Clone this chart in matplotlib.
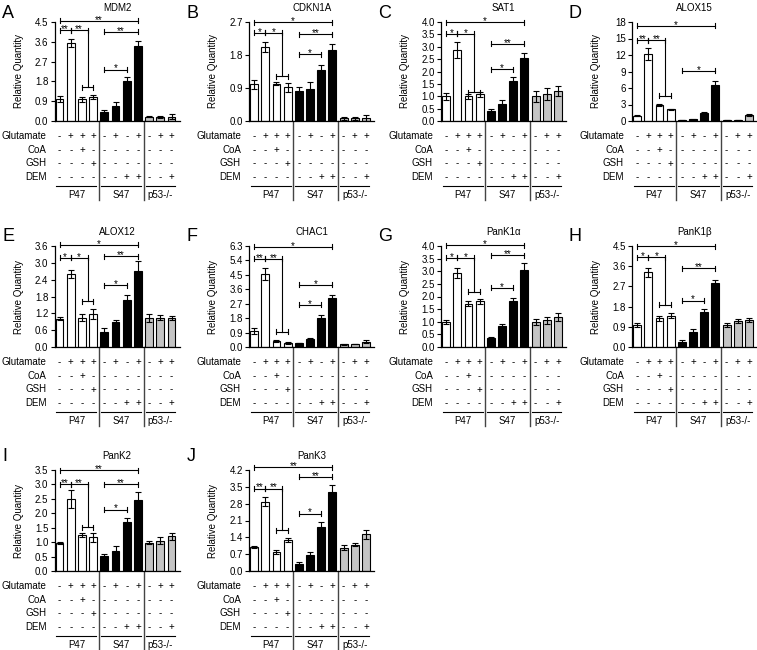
import numpy as np
import matplotlib.pyplot as plt

plt.rcParams['font.family'] = ['Liberation Sans', 'DejaVu Sans']

# datos (11 barras: P47 x4, S47 x4, p53-/- x3)
genes = ['MDM2', 'CDKN1A', 'SAT1', 'ALOX15', 'ALOX12', 'CHAC1',
         'PanK1\u03b1', 'PanK1\u03b2', 'PanK2', 'PanK3']
letters = ['A', 'B', 'C', 'D', 'E', 'F', 'G', 'H', 'I', 'J']
y_max = [4.5, 2.7, 4.0, 18, 3.6, 6.3, 4.0, 4.5, 3.5, 4.2]
y_step = [0.9, 0.9, 0.5, 3, 0.6, 0.9, 0.5, 0.9, 0.5, 0.7]

mdm2 = [1.0, 3.55, 0.98, 1.1, 0.4, 0.68, 1.8, 3.4, 0.2, 0.18, 0.2]
mdm2_err = [0.15, 0.2, 0.1, 0.1, 0.08, 0.2, 0.2, 0.25, 0.04, 0.06, 0.1]
cdkn1a = [1.0, 2.02, 1.02, 0.92, 0.82, 0.88, 1.38, 1.93, 0.07, 0.07, 0.09]
cdkn1a_err = [0.12, 0.13, 0.04, 0.13, 0.1, 0.18, 0.15, 0.18, 0.03, 0.04, 0.08]
sat1 = [1.0, 2.87, 1.0, 1.08, 0.39, 0.69, 1.6, 2.54, 1.0, 1.1, 1.22]
sat1_err = [0.15, 0.33, 0.1, 0.1, 0.08, 0.15, 0.17, 0.2, 0.22, 0.25, 0.2]
alox15 = [1.0, 12.2, 2.9, 2.1, 0.2, 0.3, 1.4, 6.6, 0.2, 0.2, 1.1]
alox15_err = [0.1, 1.1, 0.15, 0.15, 0.05, 0.05, 0.15, 0.7, 0.03, 0.03, 0.15]
alox12 = [1.01, 2.61, 1.05, 1.19, 0.53, 0.89, 1.66, 2.72, 1.03, 1.05, 1.03]
alox12_err = [0.05, 0.15, 0.12, 0.18, 0.15, 0.08, 0.2, 0.35, 0.13, 0.08, 0.08]
chac1 = [1.0, 4.55, 0.36, 0.25, 0.25, 0.52, 1.83, 3.05, 0.17, 0.19, 0.32]
chac1_err = [0.18, 0.35, 0.05, 0.04, 0.03, 0.04, 0.17, 0.22, 0.03, 0.02, 0.1]
pank1a = [0.99, 2.94, 1.72, 1.81, 0.37, 0.82, 1.81, 3.06, 0.99, 1.05, 1.19]
pank1a_err = [0.08, 0.2, 0.1, 0.1, 0.03, 0.08, 0.12, 0.25, 0.12, 0.13, 0.17]
pank1b = [0.98, 3.32, 1.28, 1.39, 0.23, 0.68, 1.58, 2.87, 0.98, 1.16, 1.2]
pank1b_err = [0.07, 0.22, 0.12, 0.12, 0.08, 0.12, 0.1, 0.12, 0.1, 0.08, 0.08]
pank2 = [0.98, 2.49, 1.24, 1.17, 0.51, 0.71, 1.7, 2.46, 0.98, 1.05, 1.2]
pank2_err = [0.04, 0.32, 0.07, 0.15, 0.08, 0.15, 0.13, 0.27, 0.06, 0.13, 0.11]
pank3 = [1.0, 2.88, 0.79, 1.29, 0.29, 0.68, 1.84, 3.3, 0.97, 1.1, 1.52]
pank3_err = [0.04, 0.18, 0.07, 0.1, 0.07, 0.1, 0.18, 0.28, 0.1, 0.05, 0.18]

means = [mdm2, cdkn1a, sat1, alox15, alox12, chac1, pank1a, pank1b, pank2, pank3]
errors = [mdm2_err, cdkn1a_err, sat1_err, alox15_err, alox12_err, chac1_err,
          pank1a_err, pank1b_err, pank2_err, pank3_err]

# significancia: texto y altura de cada corchete
s_top = ['**', '*', '*', '*', '*', '*', '*', '*', '**', '**']
s_01 = ['**', '*', '*', '**', '*', '**', '*', '*', '**', '**']
s_47 = ['**', '**', '**', '*', '**', '*', '**', '**', '**', '**']
s_46 = ['*', '*', '*', None, '*', '*', '*', '*', '*', '*']
h_top = [4.55, 2.7, 4.0, 17.3, 3.65, 6.26, 4.02, 4.5, 3.5, 4.31]
h_01 = [4.12, 2.41, 3.53, 14.7, 3.18, 5.5, 3.54, 4.0, 3.01, 3.43]
h_23 = [1.53, 1.22, 1.17, 4.6, 1.63, 0.95, 2.18, 1.89, 1.51, 1.7]
h_47 = [4.05, 2.36, 3.12, 9.1, 3.24, 3.89, 3.63, 3.5, 3.01, 3.92]
h_46 = [2.34, 1.82, 2.1, None, 2.2, 2.63, 2.34, 2.07, 2.13, 2.39]

# tabla de tratamientos
treatments = ['Glutamate', 'CoA', 'GSH', 'DEM']
glutamate = ['-', '+', '+', '+', '-', '+', '-', '+', '-', '+', '+']
coa = ['-', '-', '+', '-', '-', '-', '-', '-', '-', '-', '-']
gsh = ['-', '-', '-', '+', '-', '-', '-', '-', '-', '-', '-']
dem = ['-', '-', '-', '-', '-', '-', '+', '+', '-', '-', '+']
groups = ['P47', 'S47', 'p53-/-']
group_sizes = [4, 4, 3]
group_colors = ['white', 'black', '#c4c4c4']

W, H = 757, 650
col_x = [54.5, 249, 441, 632]
row_top = [22, 246, 470]
row_h = [99, 101, 101]
ax_w = 125.4
letter_y = [5, 228, 448]
letter_x = [2, 187, 378, 568]


def bracket(ax, x1, x2, y, label, ppd):
    cap = 2.5 * ppd
    ax.plot([x1, x2], [y, y], color='black', lw=0.8, clip_on=False)
    ax.plot([x1, x1], [y - cap, y + cap], color='black', lw=0.8, clip_on=False)
    ax.plot([x2, x2], [y - cap, y + cap], color='black', lw=0.8, clip_on=False)
    if label:
        ax.text((x1 + x2) / 2, y - 2 * ppd, label, ha='center', va='baseline',
                fontsize=7, clip_on=False)


def panel(i):
    row, col = i // 4, i % 4
    h_px = row_h[row]
    ax = fig.add_axes([col_x[col] / W, 1 - (row_top[row] + h_px) / H, ax_w / W, h_px / H])

    x = np.arange(11)
    colors = []
    for c, n in zip(group_colors, group_sizes):
        colors += [c] * n
    ax.bar(x, means[i], width=0.7, color=colors, edgecolor='black', linewidth=0.8, zorder=2)
    ax.errorbar(x, means[i], yerr=errors[i], fmt='none', ecolor='black',
                elinewidth=0.8, capsize=2.2, capthick=0.8, zorder=3)

    ax.set_xlim(-0.45, 10.75)
    ax.set_ylim(0, y_max[i])
    ticks = np.arange(0, y_max[i] + y_step[i] / 2, y_step[i])
    ax.set_yticks(ticks)
    if y_step[i] >= 1:
        ax.set_yticklabels([f'{t:.0f}' for t in ticks])
    else:
        ax.set_yticklabels([f'{t:.1f}' for t in ticks])
    ax.set_xticks([])
    ax.tick_params(axis='y', direction='out', length=3, width=0.8, pad=1.5, labelsize=7)
    for s in ['top', 'right']:
        ax.spines[s].set_visible(False)
    for s in ['left', 'bottom']:
        ax.spines[s].set_linewidth(0.9)

    ax.set_title(genes[i], fontsize=7, pad=8)
    ax.set_ylabel('Relative Quantity', fontsize=7)
    ax.yaxis.set_label_coords(-31 / ax_w, 0.5)

    # corchetes de significancia
    ppd = y_max[i] / h_px
    bracket(ax, 0, 7, h_top[i], s_top[i], ppd)
    bracket(ax, 0, 1, h_01[i], s_01[i], ppd)
    bracket(ax, 1, 2.5, h_01[i], s_01[i], ppd)
    bracket(ax, 2, 3, h_23[i], None, ppd)
    ax.plot([2.5, 2.5], [h_23[i], h_01[i]], color='black', lw=0.8, clip_on=False)
    bracket(ax, 4, 7, h_47[i], s_47[i], ppd)
    if h_46[i] is not None:
        bracket(ax, 4, 6, h_46[i], s_46[i], ppd)

    # tabla debajo del eje
    tr = ax.get_xaxis_transform()
    rows_dy = [15, 29, 42.5, 56]
    for name, signs, dy in zip(treatments, [glutamate, coa, gsh, dem], rows_dy):
        y = -dy / h_px
        ax.text(-8 / ax_w, y, name, transform=ax.transAxes, ha='right', va='center', fontsize=7)
        for xi, sgn in zip(x, signs):
            ax.text(xi, y, sgn, transform=tr, ha='center', va='center', fontsize=7)

    for xs in [3.5, 7.5]:
        ax.plot([xs, xs], [0, -79 / h_px], transform=tr, color='#444444', lw=1, clip_on=False)

    start = 0
    for g, n in zip(groups, group_sizes):
        x1, x2 = start - 0.3, start + n - 1 + 0.3
        ax.plot([x1, x2], [-65 / h_px] * 2, transform=tr, color='black', lw=0.8, clip_on=False)
        ax.text((x1 + x2) / 2, -74 / h_px, g, transform=tr, ha='center', va='center', fontsize=7)
        start += n

    fig.text(letter_x[col] / W, 1 - letter_y[row] / H, letters[i], fontsize=13,
             ha='left', va='top')


fig = plt.figure(figsize=(7.57, 6.5), dpi=100)
for i in range(len(genes)):
    panel(i)

fig.savefig('out.png', dpi=100)
